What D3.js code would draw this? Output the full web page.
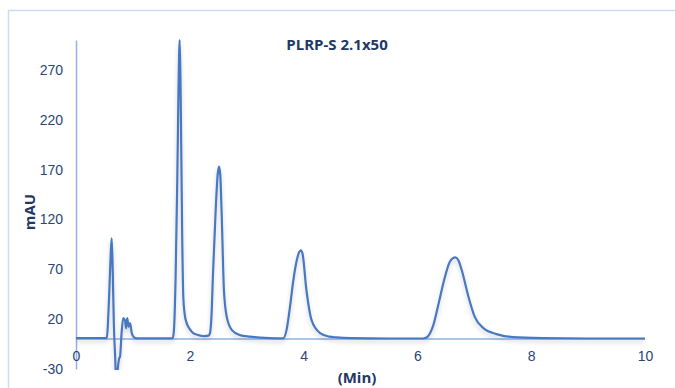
<!DOCTYPE html>
<html>
<head>
<meta charset="utf-8">
<script src="https://cdn.jsdelivr.net/npm/d3@7"></script>
<style>
  body { margin: 0; background: #fff; }
  svg { display: block; font-family: "Open Sans", sans-serif; }
</style>
</head>
<body>
<div id="chart"></div>
<script>
// Chromatogram: time (min) and absorbance (mAU)
const timeMin = [
  0, 0.54, 0.58, 0.61, 0.627, 0.645, 0.665, 0.69, 0.70, 0.72, 0.745, 0.76, 0.773,
  0.80, 0.83, 0.86, 0.88, 0.90, 0.925, 0.95, 0.98, 1.02, 1.07,
  1.60, 1.70, 1.72, 1.75, 1.78, 1.80, 1.822, 1.835, 1.85, 1.865, 1.886, 1.91, 1.945,
  2.0, 2.06, 2.15, 2.24, 2.33, 2.355, 2.38, 2.41, 2.46, 2.49, 2.513, 2.535, 2.56,
  2.60, 2.65, 2.74, 2.88, 3.06, 3.40, 3.64,
  3.70, 3.76, 3.82, 3.88, 3.92, 3.95, 3.98, 4.05, 4.14, 4.29, 4.45, 4.58, 4.82, 5.5,
  6.10, 6.16, 6.28, 6.37, 6.46, 6.57, 6.62, 6.67, 6.72, 6.78, 6.89, 7.01, 7.16,
  7.39, 7.68, 8.2, 9.0, 10
];
const absorbance = [
  1, 1, 40, 85, 101, 70, 15, -20, -36, -36, -24, -19, -18,
  5, 21, 19, 11, 21, 12.5, 16, 6, 1.8, 0.8,
  0.8, 1, 8, 60, 160, 245, 300, 265, 190, 110, 42, 25, 16,
  10, 6, 4, 3, 3.5, 6, 22, 69, 136, 165, 173, 165, 126,
  49, 22, 9, 4, 2.5, 1, 0.8,
  9, 32, 59, 79, 87, 89, 86, 49, 19, 6, 2.5, 1.7, 1, 0.6,
  0.6, 1.5, 14, 35, 57, 77.5, 81, 82, 79, 69, 44, 22, 11,
  5, 2, 1, 0.6, 0.6
];
const yTicks = [-30, 20, 70, 120, 170, 220, 270];
const xTicks = [0, 2, 4, 6, 8, 10];

const width = 675, height = 388;
const lineColor = "#4a78c2";
const axisColor = "#8fb2e0";
const textColor = "#2b4575";
const labelColor = "#1f3864";

const points = timeMin.map((t, i) => ({ t: t, v: absorbance[i] }));

const svg = d3.select("#chart")
  .append("svg")
  .attr("width", width)
  .attr("height", height);

const x = d3.scaleLinear().domain([0, 10]).range([76, 645]);
const y = d3.scaleLinear().domain([-30, 300]).range([369, 40]);

// outer chart frame (only top and left edge are visible)
svg.append("rect")
  .attr("x", 8.5).attr("y", 10.5)
  .attr("width", 720).attr("height", 420)
  .attr("fill", "none")
  .attr("stroke", "#cddcf0")
  .attr("stroke-width", 1.5);

const defs = svg.append("defs");
defs.append("clipPath").attr("id", "plot-clip")
  .append("rect")
  .attr("x", x(0)).attr("y", y(300) - 1)
  .attr("width", x(10) - x(0) + 4).attr("height", y(-30) - y(300) + 2);
const shadow = defs.append("filter").attr("id", "shadow")
  .attr("x", "-5%").attr("y", "-5%").attr("width", "110%").attr("height", "120%");
shadow.append("feDropShadow")
  .attr("dx", 0).attr("dy", 3).attr("stdDeviation", 2)
  .attr("flood-color", "#000").attr("flood-opacity", 0.18);

// y axis
const yAxis = d3.axisLeft(y).tickValues(yTicks).tickSize(0).tickPadding(13)
  .tickFormat((d) => String(d));
const gy = svg.append("g").attr("transform", `translate(${x(0)},0)`).call(yAxis);
gy.select(".domain").attr("stroke", axisColor).attr("stroke-width", 1.5);
gy.selectAll("text").attr("fill", textColor).style("font-size", "14px");

// x axis at 0 mAU, labels below the plot
svg.append("line")
  .attr("x1", x(0)).attr("x2", x(10))
  .attr("y1", y(0)).attr("y2", y(0))
  .attr("stroke", axisColor).attr("stroke-width", 1.5);
const xAxis = d3.axisBottom(x).tickValues(xTicks).tickSize(0).tickPadding(0)
  .tickFormat((d) => String(d));
const gx = svg.append("g").attr("transform", `translate(0,${y(0) + 12})`).call(xAxis);
gx.select(".domain").remove();
gx.selectAll("text").attr("fill", textColor).style("font-size", "14px");

// chromatogram trace
const line = d3.line()
  .x((d) => x(d.t))
  .y((d) => y(d.v))
  .curve(d3.curveMonotoneX);

svg.append("g")
  .attr("clip-path", "url(#plot-clip)")
  .append("path")
  .datum(points)
  .attr("d", line)
  .attr("fill", "none")
  .attr("stroke", lineColor)
  .attr("stroke-width", 2.2)
  .attr("stroke-linejoin", "round")
  .attr("filter", "url(#shadow)");

// title and axis titles
svg.append("text")
  .attr("x", 337).attr("y", 50)
  .attr("text-anchor", "middle")
  .attr("fill", labelColor)
  .style("font-size", "15px").style("font-weight", "bold")
  .text("PLRP-S 2.1x50");

svg.append("text")
  .attr("transform", "translate(35,212) rotate(-90)")
  .attr("text-anchor", "middle")
  .attr("fill", labelColor)
  .style("font-size", "15px").style("font-weight", "bold")
  .text("mAU");

svg.append("text")
  .attr("x", 357).attr("y", 383)
  .attr("text-anchor", "middle")
  .attr("fill", labelColor)
  .style("font-size", "15px").style("font-weight", "bold")
  .text("(Min)");
</script>
</body>
</html>
